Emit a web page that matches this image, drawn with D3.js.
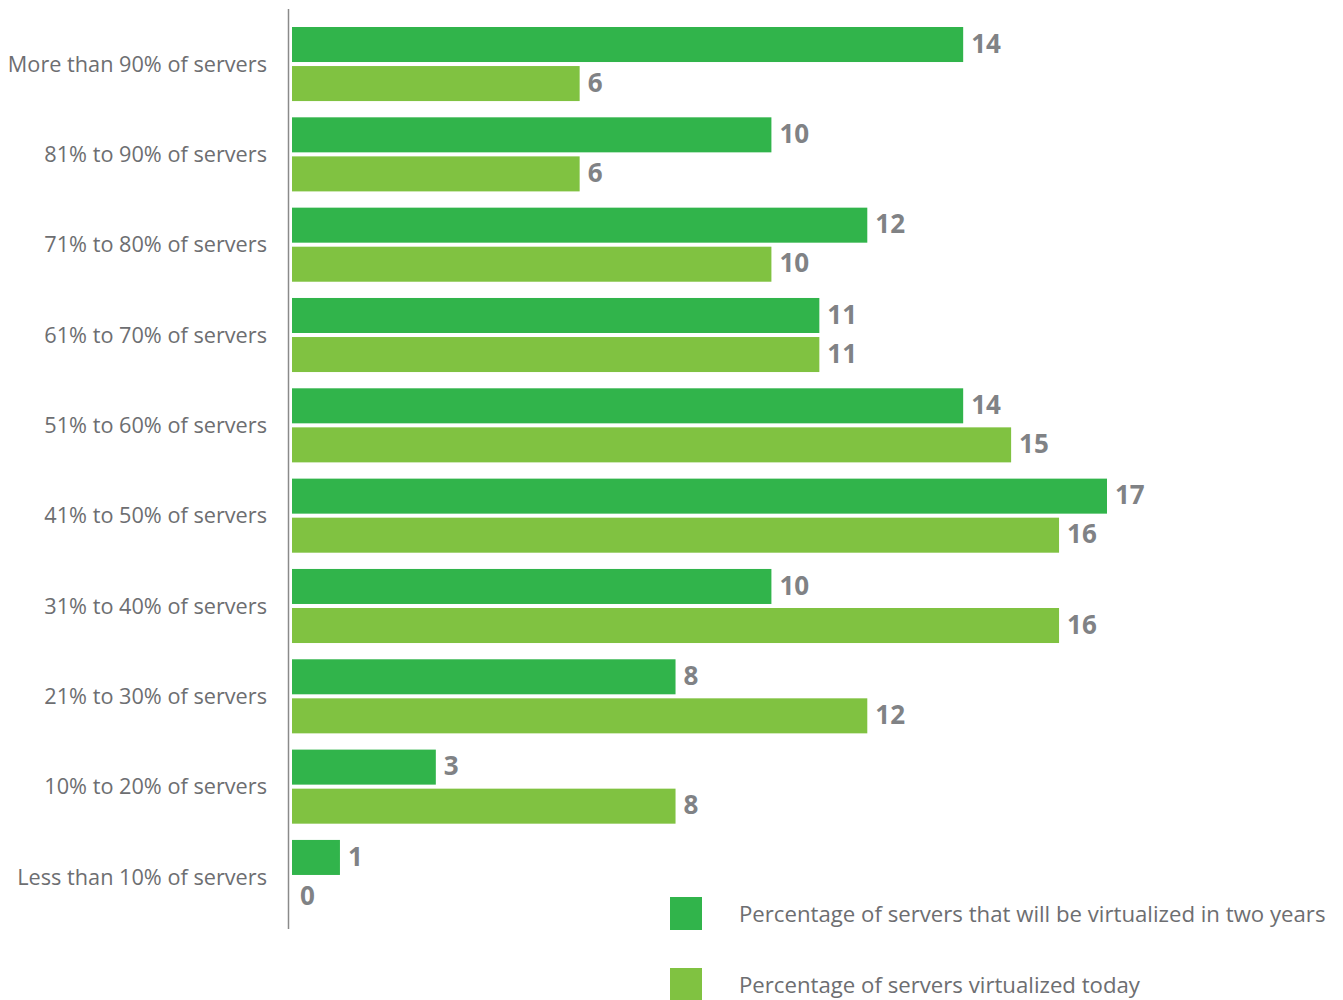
<!DOCTYPE html>
<html>
<head>
<meta charset="utf-8">
<script src="https://cdn.jsdelivr.net/npm/d3@7"></script>
<style>
  html, body { margin: 0; padding: 0; background: #ffffff; }
  svg { display: block; }
</style>
</head>
<body>
<svg id="chart" width="1343" height="1000"></svg>
<script>
// Share of servers virtualized, by band of the server estate
const categories = [
  "More than 90% of servers",
  "81% to 90% of servers",
  "71% to 80% of servers",
  "61% to 70% of servers",
  "51% to 60% of servers",
  "41% to 50% of servers",
  "31% to 40% of servers",
  "21% to 30% of servers",
  "10% to 20% of servers",
  "Less than 10% of servers"
];
const seriesNames = [
  "Percentage of servers that will be virtualized in two years",
  "Percentage of servers virtualized today"
];
const inTwoYears = [14, 10, 12, 11, 14, 17, 10, 8, 3, 1];
const today      = [6, 6, 10, 11, 15, 16, 16, 12, 8, 0];
const seriesColors = ["#31b44b", "#80c241"];

const rows = categories.map((c, i) => ({
  category: c,
  values: [
    { series: seriesNames[0], value: inTwoYears[i], color: seriesColors[0] },
    { series: seriesNames[1], value: today[i], color: seriesColors[1] }
  ]
}));

const svg = d3.select("#chart");
const FONT = "'Open Sans', 'DejaVu Sans', sans-serif";

const x = d3.scaleLinear().domain([0, 17]).range([292, 1107]);
const y = d3.scaleBand().domain(categories).range([27, 914]).paddingInner(0.18).paddingOuter(0);
const ySub = d3.scaleBand().domain(seriesNames).range([0, y.bandwidth()]).paddingInner(0.103);

// vertical axis line
svg.append("line")
  .attr("x1", 288.5).attr("x2", 288.5)
  .attr("y1", 9).attr("y2", 929)
  .attr("stroke", "#8a8a8a").attr("stroke-width", 1.5);

// category labels
svg.append("g").selectAll("text")
  .data(categories)
  .join("text")
  .attr("x", 267)
  .attr("y", d => y(d) + y.bandwidth() / 2)
  .attr("dy", "0.35em")
  .attr("text-anchor", "end")
  .attr("font-family", FONT)
  .attr("font-size", 21.7)
  .attr("fill", "#6d6e71")
  .text(d => d);

const groups = svg.append("g").selectAll("g")
  .data(rows)
  .join("g")
  .attr("transform", d => `translate(0,${y(d.category)})`);

groups.selectAll("rect")
  .data(d => d.values)
  .join("rect")
  .attr("x", x(0))
  .attr("y", d => ySub(d.series))
  .attr("width", d => x(d.value) - x(0))
  .attr("height", ySub.bandwidth())
  .attr("fill", d => d.color);

groups.selectAll("text")
  .data(d => d.values)
  .join("text")
  .attr("x", d => x(d.value) + 8)
  .attr("y", d => ySub(d.series) + ySub.bandwidth() / 2 - 1)
  .attr("dy", "0.35em")
  .attr("font-family", FONT)
  .attr("font-weight", "bold")
  .attr("font-size", 26)
  .attr("fill", "#808285")
  .text(d => d.value);

// legend
const legend = svg.append("g").selectAll("g")
  .data(seriesNames)
  .join("g")
  .attr("transform", (d, i) => `translate(670,${897 + i * 71})`);

legend.append("rect")
  .attr("width", 32).attr("height", 33)
  .attr("fill", (d, i) => seriesColors[i]);

legend.append("text")
  .attr("x", 69)
  .attr("y", 17)
  .attr("dy", "0.35em")
  .attr("font-family", FONT)
  .attr("font-size", 22.2)
  .attr("fill", "#6d6e71")
  .text(d => d);
</script>
</body>
</html>
